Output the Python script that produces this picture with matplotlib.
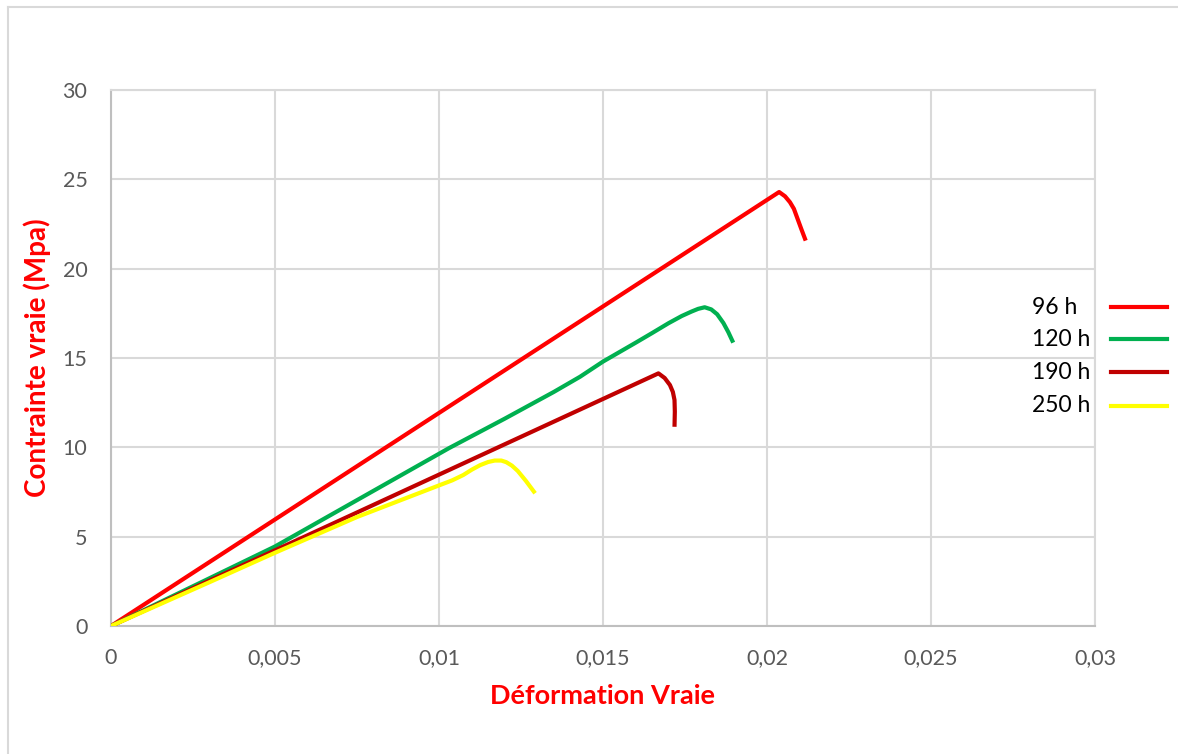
import matplotlib
matplotlib.use("Agg")
import matplotlib.pyplot as plt
from matplotlib.lines import Line2D
from matplotlib.ticker import FuncFormatter, MultipleLocator

plt.rcParams['font.family'] = ['Lato', 'DejaVu Sans']

# True strain / true stress curves for each ageing time
labels = ["96 h", "120 h", "190 h", "250 h"]
colors = ["#ff0000", "#00b050", "#c00000", "#ffff00"]

strain_96 = [0.0, 0.02037, 0.02055, 0.0207, 0.02082, 0.02091, 0.02105, 0.02118]
stress_96 = [0.0, 24.29, 24.05, 23.72, 23.35, 22.9, 22.2, 21.57]

strain_120 = [0.0, 0.005, 0.0103, 0.012, 0.0135, 0.0143, 0.015, 0.0155,
              0.016, 0.0165, 0.017, 0.0174, 0.0177, 0.0179, 0.0181, 0.0183,
              0.01848, 0.01867, 0.01882, 0.01897]
stress_120 = [0.0, 4.45, 9.95, 11.6, 13.1, 13.95, 14.8, 15.33,
              15.86, 16.4, 16.95, 17.35, 17.6, 17.75, 17.84, 17.72,
              17.45, 16.96, 16.45, 15.86]

strain_190 = [0.0, 0.01669, 0.01688, 0.01704, 0.01713, 0.01718, 0.01719, 0.01718]
stress_190 = [0.0, 14.14, 13.88, 13.49, 13.1, 12.65, 12.0, 11.15]

strain_250 = [0.0, 0.003, 0.005, 0.0075, 0.01003, 0.0104, 0.01074, 0.011,
              0.01125, 0.0115, 0.0117, 0.0119, 0.01205, 0.01222, 0.0124,
              0.01265, 0.01293]
stress_250 = [0.0, 2.45, 4.1, 6.1, 7.89, 8.15, 8.45, 8.75,
              9.0, 9.18, 9.26, 9.26, 9.17, 8.98, 8.68,
              8.12, 7.43]

series = [(strain_96, stress_96), (strain_120, stress_120),
          (strain_190, stress_190), (strain_250, stress_250)]

W, H = 1178, 754
fig = plt.figure(figsize=(W / 100, H / 100), dpi=100)
ax = fig.add_axes([111 / W, 1 - 626 / H, (1095 - 111) / W, (626 - 90) / H])

for (x, y), c in zip(series, colors):
    ax.plot(x, y, color=c, lw=3.0, solid_joinstyle='round',
            solid_capstyle='butt', zorder=3)

ax.set_xlim(0, 0.03)
ax.set_ylim(0, 30)
ax.xaxis.set_major_locator(MultipleLocator(0.005))
ax.yaxis.set_major_locator(MultipleLocator(5))

def fr(v, pos):
    s = ("%.3f" % v).rstrip('0').rstrip('.')
    return s.replace('.', ',')

ax.xaxis.set_major_formatter(FuncFormatter(fr))
ax.grid(True, color="#d9d9d9", lw=1.5, zorder=0)
for side in ["top", "right"]:
    ax.spines[side].set_color("#d9d9d9")
    ax.spines[side].set_linewidth(1.5)
for side in ["left", "bottom"]:
    ax.spines[side].set_color("#bfbfbf")
    ax.spines[side].set_linewidth(1.5)
ax.tick_params(length=0, labelsize=15.5, colors="#595959")
ax.tick_params(axis='y', pad=17)
ax.tick_params(axis='x', pad=16)

ax.set_xlabel("Déformation Vraie", color="#ff0000", fontsize=19.5,
              fontweight='bold', labelpad=11)
ax.set_ylabel("Contrainte vraie (Mpa)", color="#ff0000", fontsize=20,
              fontweight='bold', labelpad=8)

# Legend: labels on the left, line samples on the right
rows_y = [307, 339, 372, 406]
for lab, c, yy in zip(labels, colors, rows_y):
    fig.text(1032 / W, 1 - yy / H, lab, fontsize=16.5, color="#000000",
             ha='left', va='center')
    fig.add_artist(Line2D([1111 / W, 1167 / W], [1 - yy / H, 1 - yy / H],
                          color=c, lw=3.0, transform=fig.transFigure))

# Chart frame
fig.add_artist(Line2D([8 / W, 8 / W], [0, 1 - 7 / H], color="#d9d9d9",
                      lw=1.5, transform=fig.transFigure))
fig.add_artist(Line2D([8 / W, 1], [1 - 7 / H, 1 - 7 / H], color="#d9d9d9",
                      lw=1.5, transform=fig.transFigure))

fig.savefig("out.png", dpi=100)
